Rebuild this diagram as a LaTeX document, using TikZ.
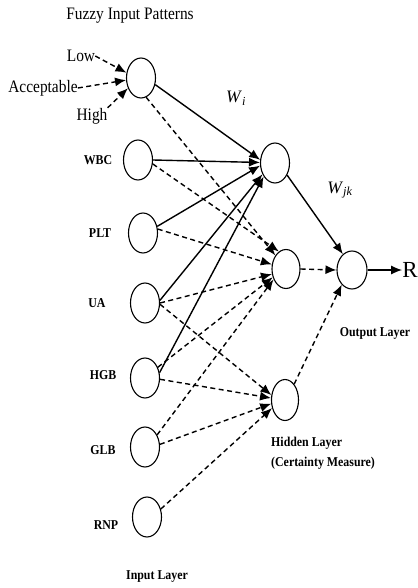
\documentclass[tikz,border=0pt]{standalone}
\usepackage{fontspec}
\usepackage{graphicx}
\setmainfont{Liberation Serif}
\usetikzlibrary{arrows.meta,shapes.geometric}
\newcommand{\sqz}[1]{\scalebox{0.88}[1]{#1}}
\tikzset{
  neuron/.style={draw,ellipse,line width=1.1pt,minimum width=29pt,minimum height=40pt,inner sep=0pt},
  lab/.style={inner sep=0pt,font=\fontsize{13.5}{15}\selectfont\bfseries},
  biglab/.style={inner sep=0pt,font=\fontsize{17.5}{19}\selectfont},
  sol/.style={line width=1.4pt,-{Latex[length=11pt,width=9pt]}},
  dsh/.style={line width=1.4pt,dash pattern=on 5pt off 3.5pt,-{Latex[length=11pt,width=9pt]}},
}
\begin{document}
\begin{tikzpicture}[x=1pt,y=-1pt]
\useasboundingbox (0,0) rectangle (417,588);
% input layer
\node[neuron] (F) at (141,78) {};
\node[neuron] (WBC) at (138,160) {};
\node[neuron] (PLT) at (143,233) {};
\node[neuron] (UA) at (145,303) {};
\node[neuron] (HGB) at (145,378) {};
\node[neuron] (GLB) at (145,447) {};
\node[neuron] (RNP) at (147,517) {};
% hidden layer
\node[neuron] (H1) at (275,163) {};
\node[neuron,minimum width=28pt,minimum height=39pt] (H2) at (286,269) {};
\node[neuron,minimum width=27pt,minimum height=41pt] (H3) at (285,400) {};
% output
\node[neuron,minimum width=30pt,minimum height=38pt] (O) at (352,270) {};
\node[inner sep=0pt,font=\fontsize{23}{25}\selectfont] (R) at (410,270) {R};
% labels
\node[biglab] (title) at (130,16) {\sqz{Fuzzy Input Patterns}};
\node[biglab] (low) at (81,56) {\sqz{Low}};
\node[biglab] (acc) at (43,88) {\sqz{Acceptable}};
\node[biglab] (high) at (92,116) {\sqz{High}};
\node[lab] (lwbc) at (98,160) {\sqz{WBC}};
\node[lab] (lplt) at (100,233) {\sqz{PLT}};
\node[lab] (lua) at (97,303) {\sqz{UA}};
\node[lab] (lhgb) at (103,375) {\sqz{HGB}};
\node[lab] (lglb) at (103,450) {\sqz{GLB}};
\node[lab] (lrnp) at (106,525) {\sqz{RNP}};
\node[lab] (linput) at (157,577) {\sqz{Input Layer}};
\node[lab,anchor=west] (lhidden) at (271,443) {\sqz{Hidden Layer}};
\node[lab,anchor=west] (lcert) at (271,463) {\sqz{(Certainty Measure)}};
\node[lab] (lout) at (375,333) {\sqz{Output Layer}};
\node[biglab] (wi) at (236,98) {\textit{W}\textsubscript{\textit{i}}};
\node[biglab] (wjk) at (340,190) {\textit{W}\textsubscript{\textit{jk}}};
% fuzzy inputs
\draw[dsh] (low.east) -- (F.160);
\draw[dsh] (acc.east) -- (F.188);
\draw[dsh] (high.north east) -- (F.218);
% solid to H1
\draw[sol] (F.-25) -- (H1.168);
\draw[sol] (WBC.east) -- (H1.178);
\draw[sol] (PLT.25) -- (H1.190);
\draw[sol] (UA.10) -- (H1.222);
\draw[sol] (HGB.20) -- (H1.230);
% dashed to H2
\draw[dsh] (F.-75) -- (H2.128);
\draw[dsh] (WBC.-15) -- (H2.112);
\draw[dsh] (PLT.15) -- (H2.162);
\draw[dsh] (UA.0) -- (H2.200);
\draw[dsh] (HGB.40) -- (H2.212);
\draw[dsh] (GLB.45) -- (H2.220);
% dashed to H3
\draw[dsh] (UA.-5) -- (H3.160);
\draw[dsh] (HGB.-5) -- (H3.172);
\draw[dsh] (GLB.10) -- (H3.195);
\draw[dsh] (RNP.30) -- (H3.212);
% to output
\draw[sol] (H1.-45) -- (O.120);
\draw[dsh] (H2.east) -- (O.west);
\draw[dsh] (H3.60) -- (O.235);
\draw[sol] (O.east) -- (R.west);
\end{tikzpicture}
\end{document}
